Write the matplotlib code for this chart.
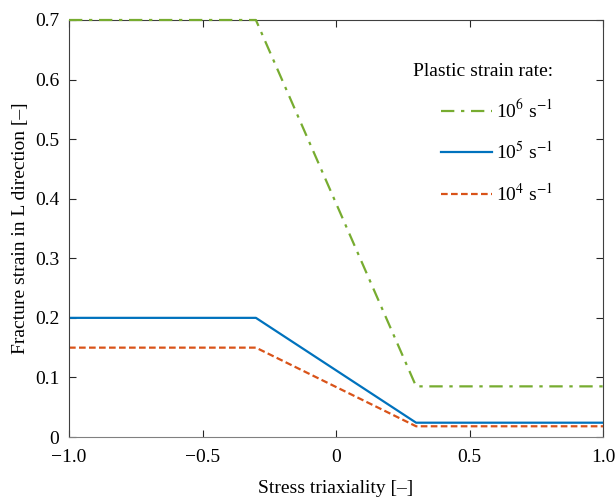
import numpy as np
import matplotlib.pyplot as plt

plt.rcParams['font.family'] = ['Liberation Serif', 'DejaVu Serif']
plt.rcParams['mathtext.fontset'] = 'stix'
plt.rcParams['font.size'] = 14

# triaxiality breakpoints and fracture strain per strain rate
triax = [-1.0, -0.3, 0.3, 1.0]
eps_1e6 = [0.7, 0.7, 0.085, 0.085]
eps_1e5 = [0.2, 0.2, 0.024, 0.024]
eps_1e4 = [0.15, 0.15, 0.018, 0.018]

rate_labels = [r'10$^{6}$ s$^{-1}$', r'10$^{5}$ s$^{-1}$', r'10$^{4}$ s$^{-1}$']

fig = plt.figure(figsize=(6.15, 4.97), dpi=100)
ax = fig.add_axes([69 / 615, 1 - 437 / 497, 534 / 615, 417 / 497])

ax.plot(triax, eps_1e6, color='#77AC30', lw=1.6, dashes=(6, 3, 1.5, 3),
        label=rate_labels[0], clip_on=False, zorder=5)
ax.plot(triax, eps_1e5, color='#0072BD', lw=1.6, label=rate_labels[1])
ax.plot(triax, eps_1e4, color='#D95319', lw=1.6, dashes=(3, 1.5), label=rate_labels[2])

ax.set_xlim(-1, 1)
ax.set_ylim(0, 0.7)
ax.set_xticks([-1.0, -0.5, 0, 0.5, 1.0])
ax.set_xticklabels(['\u22121.0', '\u22120.5', '0', '0.5', '1.0'])
ax.set_yticks(np.arange(0, 0.71, 0.1))
ax.set_yticklabels(['0', '0.1', '0.2', '0.3', '0.4', '0.5', '0.6', '0.7'])
ax.tick_params(direction='in', length=5, width=0.8, colors='#262626', labelcolor='black',
               top=True, right=True)
ax.tick_params(axis='x', pad=9)
ax.tick_params(axis='y', pad=7)
for s in ax.spines.values():
    s.set_color('#404040')
    s.set_linewidth(0.8)
ax.spines['bottom'].set_color('#808080')

ax.set_xlabel('Stress triaxiality [\u2013]', labelpad=10)
ax.set_ylabel('Fracture strain in L direction [\u2013]', labelpad=4)

leg = ax.legend(loc='upper right', bbox_to_anchor=(0.94, 0.94), frameon=False,
                title='Plastic strain rate:', title_fontsize=14,
                handlelength=2.6, handletextpad=0.25, labelspacing=1.0,
                alignment='right')

fig.savefig('out.png', dpi=100)
